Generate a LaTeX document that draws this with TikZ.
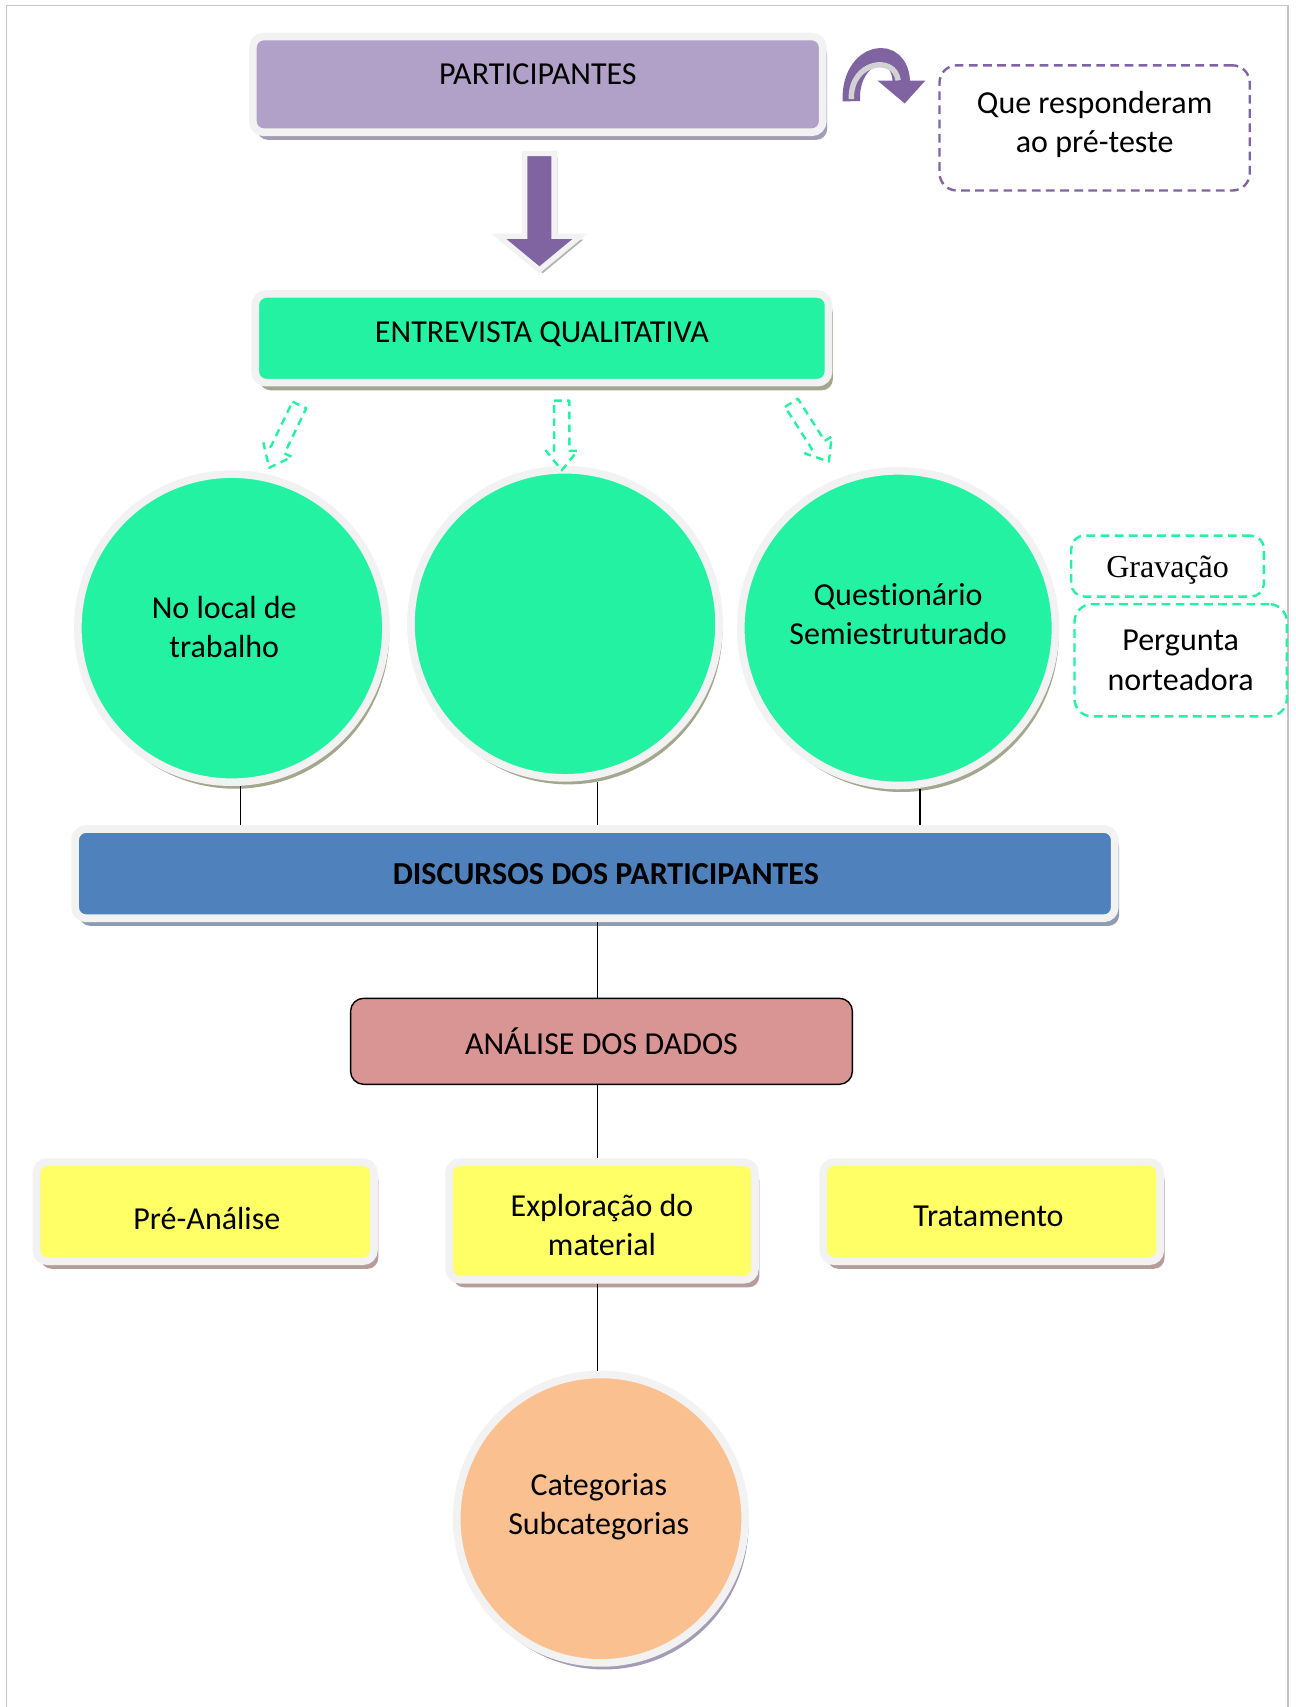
\documentclass[tikz,border=0pt]{standalone}
\usepackage{fontspec}
\setmainfont{Carlito}[Ligatures=NoCommon]
\newfontfamily\timesfont{Liberation Serif}
\usetikzlibrary{shadows}
\definecolor{lilac}{HTML}{B1A0C7}
\definecolor{darklilac}{HTML}{8064A2}
\definecolor{mint}{HTML}{24F2A3}
\definecolor{steel}{HTML}{4F81BD}
\definecolor{rose}{HTML}{D99594}
\definecolor{lemon}{HTML}{FFFF66}
\definecolor{peach}{HTML}{FAC090}
\definecolor{rimgray}{HTML}{F2F2F2}
\definecolor{shlilac}{HTML}{A49CB4}
\definecolor{sholive}{HTML}{A2A78E}
\definecolor{shblue}{HTML}{8E9BB1}
\definecolor{shrose}{HTML}{B79C9C}
\newcommand{\bigtext}{\fontsize{29.4pt}{36pt}\selectfont}
\tikzstyle{panel}=[rectangle, rounded corners=10pt, draw=rimgray, line width=7pt, inner sep=0pt, align=center, font=\bigtext]
\tikzstyle{ball}=[circle, draw=rimgray, line width=7pt, inner sep=0pt, align=center, font=\bigtext]
\tikzstyle{note}=[rectangle, rounded corners=16pt, dash pattern=on 8pt off 5pt, line width=2.2pt, inner sep=0pt, align=center, font=\bigtext]
\tikzstyle{words}=[inner sep=0pt, align=center, font=\bigtext]
\tikzstyle{link}=[black, line width=1.3pt]
\tikzstyle{hollow}=[draw=mint, dash pattern=on 7pt off 5pt, line width=2.2pt, line join=round]
\newcommand{\hollowarrow}[3]{%
  \begin{scope}[shift={(#1,#2)}, rotate=#3]
    \draw [hollow] (-7,0) -- (7,0) -- (7,46) -- (14.5,46) -- (0,64) -- (-14.5,46) -- (-7,46) -- cycle;
  \end{scope}}

\begin{document}
\begin{tikzpicture}[x=1pt, y=-1pt, thick]%

	\useasboundingbox [fill=white] (0,0) rectangle (1190,1568);
	\draw [gray!45, line width=1.5pt] (6,1568) -- (6,5) -- (1183,5) -- (1183,1568);

	\begin{scope}
		\draw  (494,77.5)    node (part)  [panel, fill=lilac, minimum width=523.5pt, minimum height=88pt, text depth=19pt,
		        drop shadow={shadow xshift=4pt, shadow yshift=-7pt, fill=shlilac, opacity=1}]  {PARTICIPANTES};
		\draw  (1005.5,117.5) node (pre)  [note, draw=darklilac, minimum width=285pt, minimum height=115pt,
		        label={[words, yshift=3pt]center:Que responderam\\ao pré-teste}]  {};
		\draw  (497.75,310.75) node (entr) [panel, fill=mint, minimum width=526.5pt, minimum height=81.5pt,
		        drop shadow={shadow xshift=4pt, shadow yshift=-7pt, fill=sholive, opacity=1},
		        label={[words, yshift=4pt]center:ENTREVISTA QUALITATIVA}]  {};

		\draw  (213,577)     node (lc)    [ball, fill=mint, minimum size=283pt,
		        drop shadow={shadow xshift=3pt, shadow yshift=-6pt, fill=sholive, opacity=1},
		        label={[words, xshift=-7pt, yshift=1pt]center:No local de\\trabalho}]  {};
		\draw  (519,573)     node (mc)    [ball, fill=mint, minimum size=283pt,
		        drop shadow={shadow xshift=3pt, shadow yshift=-6pt, fill=sholive, opacity=1}]  {};
		\draw  (825,577)     node (rc)    [ball, fill=mint, minimum size=289pt,
		        drop shadow={shadow xshift=3pt, shadow yshift=-6pt, fill=sholive, opacity=1},
		        label={[words, yshift=13pt]center:Questionário\\Semiestruturado}]  {};
		\draw  (1072.5,520)  node (grav)  [note, draw=mint, rounded corners=12pt, minimum width=177pt, minimum height=56pt,
		        label={[words, font=\bigtext\timesfont, yshift=-4pt]center:Gravação}]  {};
		\draw  (1084.5,606.5) node (perg) [note, draw=mint, minimum width=195pt, minimum height=103pt]  {Pergunta\\norteadora};

		\draw  (546.5,802.5) node (disc)  [panel, fill=steel, minimum width=955pt, minimum height=82pt,
		        drop shadow={shadow xshift=4pt, shadow yshift=-7pt, fill=shblue, opacity=1},
		        label={[words, font=\bigtext\bfseries, xshift=10pt]center:DISCURSOS DOS PARTICIPANTES}]  {};
		\draw  (552.5,956.5) node (ana)   [rectangle, rounded corners=12pt, draw=black, line width=1.3pt, fill=rose,
		        minimum width=461pt, minimum height=79pt, font=\bigtext]  {ANÁLISE DOS DADOS};

		\draw  (188.5,1113)  node (prean) [panel, fill=lemon, minimum width=310pt, minimum height=91pt,
		        drop shadow={shadow xshift=4pt, shadow yshift=-7pt, fill=shrose, opacity=1},
		        label={[words, xshift=1.5pt, yshift=-6pt]center:Pré-Análise}]  {};
		\draw  (553,1121.5)  node (explo) [panel, fill=lemon, minimum width=281pt, minimum height=108pt,
		        drop shadow={shadow xshift=4pt, shadow yshift=-7pt, fill=shrose, opacity=1},
		        label={[words, yshift=-4pt]center:Exploração do\\material}]  {};
		\draw  (911,1113)    node (trat)  [panel, fill=lemon, minimum width=309.5pt, minimum height=91pt,
		        drop shadow={shadow xshift=4pt, shadow yshift=-7pt, fill=shrose, opacity=1},
		        label={[words, xshift=-3pt, yshift=-4pt]center:Tratamento}]  {};

		\draw  (552,1395)    node (cat)   [ball, fill=peach, minimum size=265pt,
		        drop shadow={shadow xshift=3pt, shadow yshift=-6pt, fill=shlilac, opacity=1},
		        label={[words, xshift=-2pt, yshift=11pt]center:Categorias\\Subcategorias}]  {};
	\end{scope}

	% block arrow and curled arrow
	\draw [fill=darklilac, draw=rimgray, line width=5pt, line join=miter,
	       drop shadow={shadow xshift=3pt, shadow yshift=-3pt, fill=gray!60, opacity=1}]
	      (482,141) -- (509,141) -- (509,217) -- (533,217) -- (495.5,248) -- (458,217) -- (482,217) -- cycle;
	\draw [line width=16pt, darklilac] (782,93) .. controls (780,46) and (828,38) .. (828,77);
	\draw [line width=5pt, gray!35] (782,91) .. controls (781,56) and (822,50) .. (825,74);
	\fill [darklilac] (806,74) -- (850,74) -- (831,95) -- cycle;

	% dashed arrows
	\hollowarrow{275}{372}{-25.7}
	\hollowarrow{516}{368}{0}
	\hollowarrow{727}{370}{32.5}

	\draw [link] ([xshift=8pt]lc.south)  -- ([xshift=8pt]lc.south |- disc.north);
	\draw [link] ([xshift=30pt]mc.south) -- ([xshift=30pt]mc.south |- disc.north);
	\draw [link] ([xshift=20pt]rc.south) -- ([xshift=20pt]rc.south |- disc.north);
	\draw [link] ([xshift=2.5pt]disc.south) -- ([xshift=2.5pt]disc.south |- ana.north);
	\draw [link] ([xshift=-3.5pt]ana.south) -- ([xshift=-3.5pt]ana.south |- explo.north);
	\draw [link] ([xshift=-4pt]explo.south) -- ([xshift=-4pt]explo.south |- cat.north);

\end{tikzpicture}
\end{document}
